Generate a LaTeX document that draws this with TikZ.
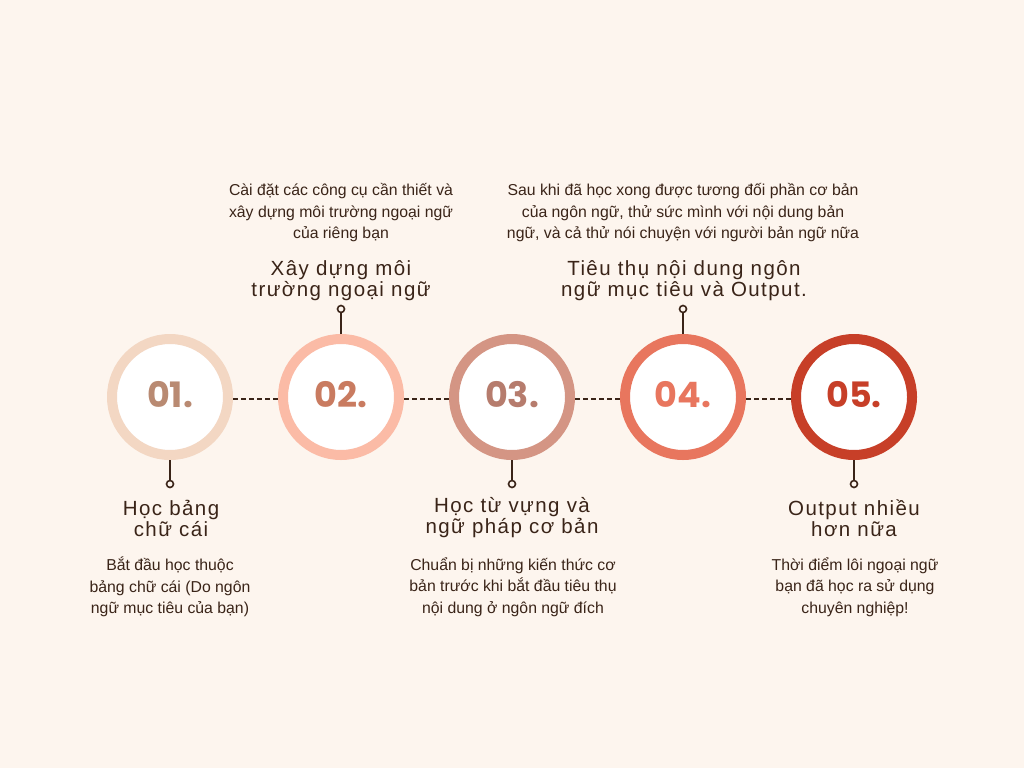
\documentclass[tikz,border=0pt]{standalone}
\usepackage{fontspec}
\setmainfont{Liberation Sans}
\newfontfamily\numfont{Poppins}
\newfontfamily\titlefont[LetterSpace=7]{Liberation Sans}
\definecolor{bg}{HTML}{FDF5EE}
\definecolor{ink}{HTML}{3A2418}
\definecolor{ringA}{HTML}{F3D7C3}
\definecolor{numA}{HTML}{B98A72}
\definecolor{ringB}{HTML}{FBBBA6}
\definecolor{numB}{HTML}{C97B60}
\definecolor{ringC}{HTML}{D49584}
\definecolor{numC}{HTML}{B67C6D}
\definecolor{ringD}{HTML}{E8765E}
\definecolor{numD}{HTML}{E8765E}
\definecolor{ringE}{HTML}{C73F28}
\definecolor{numE}{HTML}{C73F28}
\tikzset{
  ring/.style={circle, draw=#1, line width=10pt, fill=white, minimum size=116pt, inner sep=0pt},
  numtxt/.style={text=#1, font=\numfont\bfseries\fontsize{35}{35}\selectfont},
  ttl/.style={text=ink, align=center, font=\titlefont\fontsize{20.5}{21}\selectfont},
  body/.style={text=ink, align=center, font=\fontsize{15.8}{21.5}\selectfont},
  link/.style={draw=ink, line width=2pt, dash pattern=on 5pt off 3pt},
  pin/.style={draw=ink, line width=1.8pt},
  pinend/.style={circle, draw=ink, line width=1.6pt, fill=bg, minimum size=7pt, inner sep=0pt}
}
\begin{document}
\begin{tikzpicture}[x=1pt,y=-1pt]
\fill[bg] (0,0) rectangle (1024,768);
\useasboundingbox (0,0) rectangle (1024,768);
% rings
\node[ring=ringA] (c1) at (170,397) {};
\node[ring=ringB] (c2) at (341,397) {};
\node[ring=ringC] (c3) at (512,397) {};
\node[ring=ringD] (c4) at (683,397) {};
\node[ring=ringE] (c5) at (854,397) {};
\node[numtxt=numA] (n1) at (170,395) {01.};
\node[numtxt=numB] (n2) at (341,395) {02.};
\node[numtxt=numC] (n3) at (512,395) {03.};
\node[numtxt=numD] (n4) at (683,395) {04.};
\node[numtxt=numE] (n5) at (854,395) {05.};
% dashed links
\draw[link] ([yshift=-2pt]c1.east) -- ([yshift=-2pt]c2.west);
\draw[link] ([yshift=-2pt]c2.east) -- ([yshift=-2pt]c3.west);
\draw[link] ([yshift=-2pt]c3.east) -- ([yshift=-2pt]c4.west);
\draw[link] ([yshift=-2pt]c4.east) -- ([yshift=-2pt]c5.west);
% pins
\node[pinend] (p1) at (170,484) {};
\node[pinend] (p2) at (341,309) {};
\node[pinend] (p3) at (512,484) {};
\node[pinend] (p4) at (683,309) {};
\node[pinend] (p5) at (854,484) {};
\draw[pin] (c1.south) -- (p1);
\draw[pin] (c2.north) -- (p2);
\draw[pin] (c3.south) -- (p3);
\draw[pin] (c4.north) -- (p4);
\draw[pin] (c5.south) -- (p5);
% titles
\node[ttl] (t1) at (171,518) {Học bảng\\chữ cái};
\node[ttl] (t2) at (341,281) {Xây dựng môi\\trường ngoại ngữ};
\node[ttl] (t3) at (512,518) {Học từ vựng và\\ngữ pháp cơ bản};
\node[ttl] (t4) at (684,281) {Tiêu thụ nội dung ngôn\\ngữ mục tiêu và Output.};
\node[ttl] (t5) at (854,518) {Output nhiều\\hơn nữa};
% bodies
\node[body] (b1) at (170,587) {Bắt đầu học thuộc\\bảng chữ cái (Do ngôn\\ngữ mục tiêu của bạn)};
\node[body] (b2) at (341,213) {Cài đặt các công cụ cần thiết và\\xây dựng môi trường ngoại ngữ\\của riêng bạn};
\node[body] (b3) at (513,587) {Chuẩn bị những kiến thức cơ\\bản trước khi bắt đầu tiêu thụ\\nội dung ở ngôn ngữ đích};
\node[body] (b4) at (683,213) {Sau khi đã học xong được tương đối phần cơ bản\\của ngôn ngữ, thử sức mình với nội dung bản\\ngữ, và cả thử nói chuyện với người bản ngữ nữa};
\node[body] (b5) at (855,587) {Thời điểm lôi ngoại ngữ\\bạn đã học ra sử dụng\\chuyên nghiệp!};
\end{tikzpicture}
\end{document}
